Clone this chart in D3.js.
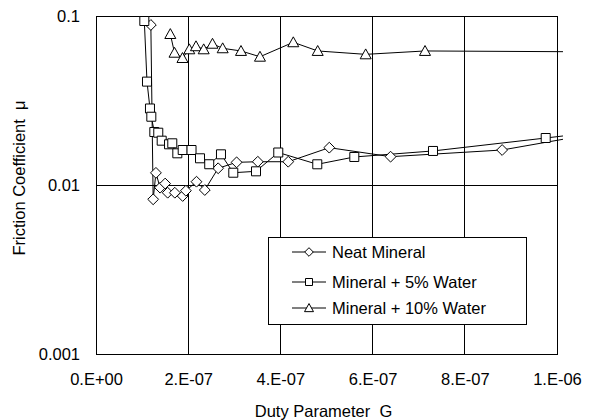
<!DOCTYPE html>
<html>
<head>
<meta charset="utf-8">
<script src="https://cdn.jsdelivr.net/npm/d3@7"></script>
<style>
  html, body { margin: 0; padding: 0; background: #fff; }
  svg { display: block; }
  text { font-family: "Liberation Sans", Arial, sans-serif; fill: #000; }
</style>
</head>
<body>
<svg id="chart" width="593" height="420"></svg>
<script>
// Duty parameter G (x) and friction coefficient (y) for each lubricant
const neatG  = [1.19e-7, 1.24e-7, 1.30e-7, 1.39e-7, 1.50e-7, 1.555e-7, 1.71e-7, 1.88e-7, 1.95e-7, 2.18e-7, 2.36e-7, 2.65e-7, 3.05e-7, 3.51e-7, 4.17e-7, 5.06e-7, 6.39e-7, 8.81e-7, 1.013e-6];
const neatMu = [0.0885, 0.00823, 0.0118, 0.00964, 0.0102, 0.0090, 0.0090, 0.00861, 0.00925, 0.01046, 0.00934, 0.01256, 0.01362, 0.01373, 0.01373, 0.01663, 0.01471, 0.01611, 0.01864];

const w5G  = [1.048e-7, 1.106e-7, 1.171e-7, 1.20e-7, 1.265e-7, 1.351e-7, 1.425e-7, 1.584e-7, 1.655e-7, 1.764e-7, 1.881e-7, 2.072e-7, 2.256e-7, 2.456e-7, 2.711e-7, 2.978e-7, 3.471e-7, 3.954e-7, 4.80e-7, 5.603e-7, 7.31e-7, 9.755e-7, 1.013e-6];
const w5Mu = [0.0934, 0.0409, 0.02836, 0.02535, 0.02059, 0.02039, 0.01829, 0.01741, 0.01765, 0.0154, 0.01611, 0.01611, 0.01439, 0.01327, 0.01519, 0.01182, 0.01205, 0.01557, 0.01326, 0.01465, 0.0159, 0.01897, 0.0195];

const w10G  = [1.612e-7, 1.703e-7, 1.876e-7, 2.024e-7, 2.169e-7, 2.336e-7, 2.527e-7, 2.748e-7, 3.145e-7, 3.557e-7, 4.28e-7, 4.809e-7, 5.85e-7, 7.137e-7, 1.013e-6];
const w10Mu = [0.0782, 0.0606, 0.0564, 0.0635, 0.0662, 0.0635, 0.0685, 0.0644, 0.0621, 0.0574, 0.0699, 0.0621, 0.0593, 0.0621, 0.0615];

const seriesNames = ["Neat Mineral", "Mineral + 5% Water", "Mineral + 10% Water"];
const xTicks = [0, 2e-7, 4e-7, 6e-7, 8e-7, 1e-6];
const xTickLabels = ["0.E+00", "2.E-07", "4.E-07", "6.E-07", "8.E-07", "1.E-06"];
const yTicks = [0.001, 0.01, 0.1];
const yTickLabels = ["0.001", "0.01", "0.1"];

const svg = d3.select("#chart");
const plotL = 96, plotR = 557, plotT = 16, plotB = 354;
const x = d3.scaleLinear().domain([0, 1e-6]).range([plotL, plotR]);
const y = d3.scaleLog().domain([0.001, 0.1]).range([plotB, plotT]);
const FS = "16.5px";

// gridlines
const grid = svg.append("g").attr("stroke", "#000").attr("stroke-width", 1).attr("shape-rendering", "crispEdges");
xTicks.slice(1, -1).forEach(v => {
  grid.append("line").attr("x1", x(v)).attr("x2", x(v)).attr("y1", plotT).attr("y2", plotB);
});
yTicks.slice(1, -1).forEach(v => {
  grid.append("line").attr("x1", plotL).attr("x2", plotR).attr("y1", y(v)).attr("y2", y(v));
});

// axes without tick marks
const xAxis = d3.axisBottom(x).tickValues(xTicks).tickSize(0).tickPadding(19)
  .tickFormat((d, i) => xTickLabels[i]);
const gx = svg.append("g").attr("transform", `translate(0,${plotB})`).call(xAxis);
gx.select(".domain").remove();
gx.selectAll("text").style("font-size", FS).style("font-family", "Liberation Sans, Arial, sans-serif");

const yAxis = d3.axisLeft(y).tickValues(yTicks).tickSize(0).tickPadding(16)
  .tickFormat((d, i) => yTickLabels[i]);
const gy = svg.append("g").attr("transform", `translate(${plotL},0)`).call(yAxis);
gy.select(".domain").remove();
gy.selectAll("text").style("font-size", FS).style("font-family", "Liberation Sans, Arial, sans-serif");

// plot frame
svg.append("rect").attr("x", plotL).attr("y", plotT).attr("width", plotR - plotL).attr("height", plotB - plotT)
  .attr("fill", "none").attr("stroke", "#000").attr("stroke-width", 1).attr("shape-rendering", "crispEdges");

// marker shapes
function diamond(cx, cy, r) { return `M${cx},${cy - r}L${cx + r},${cy}L${cx},${cy + r}L${cx - r},${cy}Z`; }
function square(cx, cy, s) { const h = s / 2; return `M${cx - h},${cy - h}h${s}v${s}h${-s}Z`; }
function triangle(cx, cy, w) { const h = w * 0.9; return `M${cx},${cy - h * 0.55}L${cx + w / 2},${cy + h * 0.45}L${cx - w / 2},${cy + h * 0.45}Z`; }

const series = [
  { name: seriesNames[0], g: neatG, mu: neatMu, shape: (a, b) => diamond(a, b, 5.4), legendShape: (a, b) => diamond(a, b, 4.3) },
  { name: seriesNames[1], g: w5G, mu: w5Mu, shape: (a, b) => square(a, b, 9), legendShape: (a, b) => square(a, b, 7) },
  { name: seriesNames[2], g: w10G, mu: w10Mu, shape: (a, b) => triangle(a, b, 11), legendShape: (a, b) => triangle(a, b, 9) }
];

const line = d3.line().x(d => x(d[0])).y(d => y(d[1]));
series.forEach(s => {
  const pts = s.g.map((g, i) => [g, s.mu[i]]);
  svg.append("path").attr("d", line(pts)).attr("fill", "none").attr("stroke", "#000").attr("stroke-width", 1);
});
// markers drawn on top of all lines, only within the axis range
series.forEach(s => {
  const pts = s.g.map((g, i) => [g, s.mu[i]]).filter(p => p[0] <= 1e-6);
  svg.append("g").selectAll("path").data(pts).join("path")
    .attr("d", p => s.shape(x(p[0]), y(p[1])))
    .attr("fill", "#fff").attr("stroke", "#000").attr("stroke-width", 1);
});

// legend
const lg = svg.append("g");
lg.append("rect").attr("x", 268).attr("y", 237).attr("width", 258).attr("height", 87)
  .attr("fill", "#fff").attr("stroke", "#000").attr("stroke-width", 1).attr("shape-rendering", "crispEdges");
const rowY = [252, 282, 308];
series.forEach((s, i) => {
  const ry = rowY[i];
  lg.append("line").attr("x1", 292).attr("x2", 326).attr("y1", ry).attr("y2", ry).attr("stroke", "#000");
  lg.append("path").attr("d", s.legendShape(309, ry)).attr("fill", "#fff").attr("stroke", "#000");
  lg.append("text").attr("x", 332).attr("y", ry).attr("dy", "0.35em").style("font-size", FS).text(s.name);
});

// axis titles
svg.append("text").attr("x", (plotL + plotR) / 2 - 3).attr("y", 411).attr("dy", "0.35em")
  .attr("text-anchor", "middle").style("font-size", FS).attr("xml:space", "preserve").text("Duty Parameter  G");
svg.append("text").attr("transform", "translate(19,178) rotate(-90)").attr("dy", "0.35em")
  .attr("text-anchor", "middle").style("font-size", FS).attr("xml:space", "preserve").text("Friction Coefficient  μ");
</script>
</body>
</html>
